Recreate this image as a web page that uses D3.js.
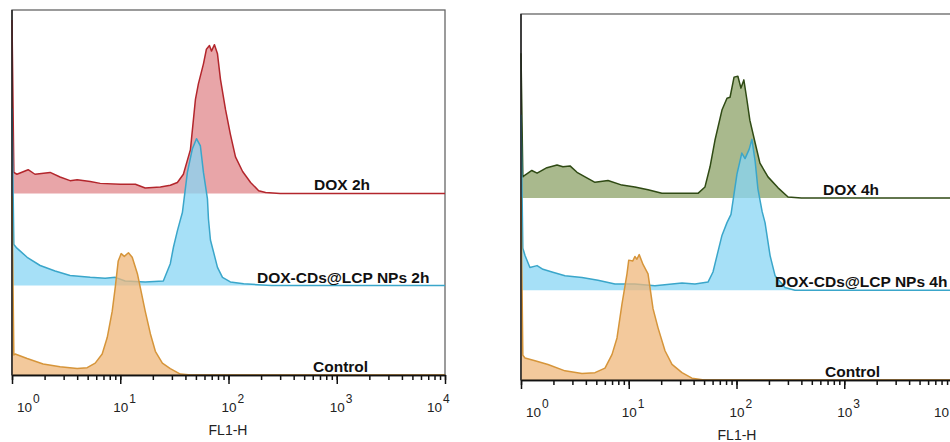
<!DOCTYPE html>
<html>
<head>
<meta charset="utf-8">
<script src="https://cdn.jsdelivr.net/npm/d3@7.9.0/dist/d3.min.js"></script>
<style>
  body { margin: 0; background: #fff; }
  svg { display: block; font-family: "Liberation Sans", Arial, sans-serif; }
</style>
</head>
<body>
<svg id="chart" width="950" height="442"></svg>
<script>
// FL1-H value, event count
const dox2h = [[1.0,190],[1.04,23],[1.11,21],[1.41,26],[1.63,21],[2.25,23],[2.78,18],[3.44,14],[4.0,15],[5.28,13],[6.53,11],[10,10],[13.8,10],[17.0,6],[23.5,7],[29.0,9],[33.7,12],[38.3,21],[44.5,48],[49.5,103],[52.7,120],[58.7,142],[62.5,158],[66.7,162],[69.6,156],[74.2,163],[79.1,153],[84.3,125],[93.8,92],[104,65],[116,40],[135,24],[160,12],[190,3],[220,1],[300,0],[10000,0]];
const cds2h = [[1.0,194],[1.04,45],[1.11,41],[1.38,31],[1.82,22],[2.50,16],[3.44,11],[5.28,9],[7.26,8],[8.99,9],[11.1,5],[17.0,4],[25.0,5],[29.0,24],[31.0,42],[33.7,60],[35.9,72],[37.5,80],[41.7,124],[46.4,150],[50.6,161],[55.0,153],[58.7,124],[63.9,95],[65.3,73],[68.1,50],[79.1,20],[88.0,9],[104,4],[138,2],[186,1],[250,0],[10000,0]];
const ctrl2h = [[1.0,196],[1.04,22],[1.07,23],[1.38,18],[1.94,12],[2.78,9],[4.0,7],[4.95,8],[5.87,13],[6.81,23],[7.58,41],[8.43,70],[8.99,96],[9.58,125],[10.2,133],[10.9,130],[11.9,134],[12.9,129],[14.4,111],[16.0,85],[17.0,70],[19.0,45],[21.1,26],[24.5,13],[29.0,7],[35.9,1],[45,0],[10000,0]];

const dox4h = [[1.0,158],[1.04,23],[1.09,25],[1.26,30],[1.41,27],[1.74,33],[2.16,36],[2.45,34],[2.85,35],[3.31,28],[3.93,23],[4.86,17],[6.42,19],[8.65,14],[11.4,12],[15.1,9],[20.3,5],[31.2,5],[43.9,5],[51.0,12],[56.8,34],[63.1,63],[73.3,96],[81.6,109],[87.1,110],[94.9,132],[103,133],[110,120],[117,129],[125,107],[133,85],[149,60],[165,38],[196,23],[243,11],[301,1],[400,0],[10000,0]];
const cds4h = [[1.0,192],[1.04,46],[1.09,38],[1.21,25],[1.41,27],[1.60,23],[1.94,20],[2.56,16],[3.68,14],[5.18,11],[7.45,7],[11.4,7],[17.5,5],[25.2,7],[31.2,8],[41.2,7],[54.4,9],[60.5,20],[65.9,38],[73.3,60],[81.6,74],[88.9,83],[101,127],[112,150],[120,144],[131,154],[139,165],[149,141],[158,111],[173,86],[184,74],[205,38],[228,16],[282,3],[349,0],[10000,0]];
const ctrl4h = [[1.0,200],[1.04,27],[1.09,24],[1.35,21],[1.78,17],[2.56,10],[3.68,7],[4.86,8],[6.02,13],[7.0,28],[7.78,46],[8.65,83],[9.63,116],[10.0,131],[10.9,130],[11.4,135],[11.9,132],[12.5,137],[13.6,126],[15.1,116],[16.8,78],[18.7,57],[21.7,32],[25.2,17],[31.2,8],[38.6,2],[50,0],[10000,0]];

const labels2h = ["DOX 2h", "DOX-CDs@LCP NPs 2h", "Control"];
const labels4h = ["DOX 4h", "DOX-CDs@LCP NPs 4h", "Control"];
const laneOffsets = [199, 98, 0];   // vertical offset of each overlaid histogram, in counts
const majorTicks = [1, 10, 100, 1000, 10000];
const tickExponents = ["0", "1", "2", "3", "4"];
const xTitle = "FL1-H";

const svg = d3.select("#chart");

const strokes = { red: "#b3262c", blue: "#3aa6ca", orange: "#d6953a", green: "#2f4a14" };
const fills   = { red: "#e0878b", blue: "#88d6f4", orange: "#efb77b", green: "#8ca267" };

function drawPanel(p) {
    const g = svg.append("g");
    const x = d3.scaleLog().domain([1, 10000]).range([p.x0, p.x1]);
    const y = d3.scaleLinear().domain([0, 400]).range([p.y1, p.y0]);

    // frame
    g.append("rect")
        .attr("x", p.x0).attr("y", p.y0)
        .attr("width", p.x1 - p.x0).attr("height", p.y1 - p.y0)
        .attr("fill", "none").attr("stroke", "#666").attr("stroke-width", 1.3);

    p.series.forEach((s, i) => {
        const off = laneOffsets[i];
        const area = d3.area()
            .x(d => x(d[0]))
            .y0(y(off))
            .y1(d => y(off + d[1]));
        const line = d3.line()
            .x(d => x(d[0]))
            .y(d => y(off + d[1]));

        g.append("path")
            .attr("d", area(s.data))
            .attr("fill", fills[s.color])
            .attr("fill-opacity", 0.75);
        g.append("path")
            .attr("d", line(s.data))
            .attr("fill", "none")
            .attr("stroke", strokes[s.color])
            .attr("stroke-width", 1.5)
            .attr("stroke-linejoin", "round");

        g.append("text")
            .attr("x", p.labelX[i])
            .attr("y", y(off) - 3)
            .attr("font-size", 15.5)
            .attr("font-weight", "bold")
            .attr("fill", "#111")
            .text(p.labels[i]);
    });

    // left axis line
    g.append("line")
        .attr("x1", p.x0).attr("x2", p.x0)
        .attr("y1", p.y0).attr("y2", p.y1)
        .attr("stroke", "#222").attr("stroke-width", 1.5);

    // minor + major ticks
    const minor = g.append("g")
        .attr("transform", `translate(0,${p.y1})`)
        .call(d3.axisBottom(x).tickValues(x.ticks()).tickSize(5).tickSizeOuter(0).tickFormat(""));
    const major = g.append("g")
        .attr("transform", `translate(0,${p.y1})`)
        .call(d3.axisBottom(x).tickValues(majorTicks).tickSize(9).tickSizeOuter(0).tickFormat(""));
    [minor, major].forEach(a => {
        a.selectAll("path, line").attr("stroke", "#111").attr("stroke-width", 1.5);
    });

    // tick labels 10^n
    majorTicks.forEach((v, i) => {
        let dx = -7;
        if (i === 0) dx = 5;
        if (i === majorTicks.length - 1) dx = -18;
        const t = g.append("text")
            .attr("x", x(v) + dx)
            .attr("y", p.y1 + 37)
            .attr("font-size", 13.5)
            .attr("fill", "#222");
        t.append("tspan").text("10");
        t.append("tspan").attr("dy", -9).attr("dx", 1).attr("font-size", 12).text(tickExponents[i]);
    });

    g.append("text")
        .attr("x", p.x0 + 216)
        .attr("y", p.y1 + 60)
        .attr("text-anchor", "middle")
        .attr("font-size", 14)
        .attr("fill", "#222")
        .text(xTitle);
}

drawPanel({
    x0: 12, x1: 445, y0: 10, y1: 375,
    labels: labels2h, labelX: [314, 257, 313],
    series: [
        { data: dox2h, color: "red" },
        { data: cds2h, color: "blue" },
        { data: ctrl2h, color: "orange" }
    ]
});

drawPanel({
    x0: 521, x1: 952, y0: 14, y1: 380,
    labels: labels4h, labelX: [823, 775, 825],
    series: [
        { data: dox4h, color: "green" },
        { data: cds4h, color: "blue" },
        { data: ctrl4h, color: "orange" }
    ]
});
</script>
</body>
</html>
